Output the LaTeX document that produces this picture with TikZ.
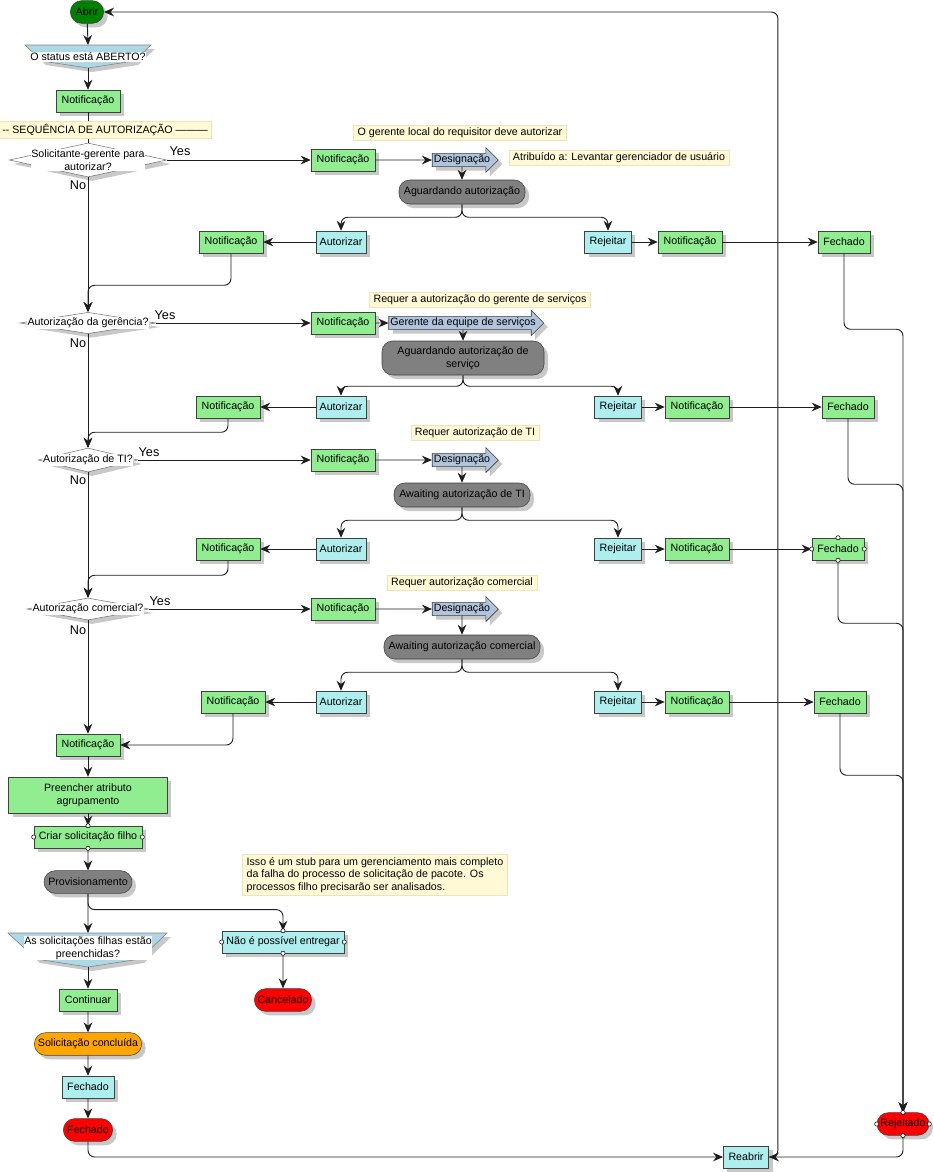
\documentclass[tikz,border=0pt]{standalone}
\usepackage{fontspec}
\setmainfont{Liberation Sans}
\usetikzlibrary{shapes,arrows,arrows.meta,positioning,shadows}

\definecolor{taskgreen}{RGB}{144,238,144}
\definecolor{actcyan}{RGB}{175,238,238}
\definecolor{stategray}{RGB}{128,128,128}
\definecolor{startgreen}{RGB}{0,128,0}
\definecolor{endred}{RGB}{255,0,0}
\definecolor{doneorange}{RGB}{255,165,0}
\definecolor{notefill}{RGB}{255,249,214}
\definecolor{notedraw}{RGB}{236,226,188}
\definecolor{assignblue}{RGB}{176,196,222}
\definecolor{askblue}{RGB}{173,216,230}
\definecolor{shadowgray}{RGB}{200,200,200}
\definecolor{linegray}{RGB}{30,30,30}
\definecolor{boxline}{RGB}{64,64,64}

\begin{document}
\begin{tikzpicture}[
  x=0.75pt, y=-0.75pt,
  every node/.style={font=\fontsize{8}{9.5}\selectfont, text=black},
  dropsh/.style={drop shadow={shadow xshift=3pt, shadow yshift=-3pt, fill=shadowgray, opacity=1}},
  box/.style={
    rectangle,
    draw=boxline,
    dropsh,
    minimum height=16.5pt,
    inner xsep=2pt,
    inner ysep=1pt
  },
  task/.style={box, fill=taskgreen},
  act/.style={box, fill=actcyan},
  pill/.style={rounded rectangle, draw=boxline, dropsh, minimum height=17pt, inner xsep=1pt},
  waitbox/.style={rectangle, rounded corners=8pt, draw=boxline, fill=stategray, dropsh,
    minimum height=18pt, align=center},
  note/.style={rectangle, draw=notedraw, fill=notefill, inner xsep=3pt, inner ysep=2pt},
  assign/.style={single arrow, draw=boxline, fill=assignblue, dropsh,
    single arrow head extend=4.5pt, inner sep=1pt},
  decision/.style={diamond, draw=black!55, fill=white, dropsh, inner sep=0pt},
  dtext/.style={fill=white, inner sep=0.5pt, align=center},
  ask/.style={draw=black!50, fill=askblue, dropsh},
  yesno/.style={font=\fontsize{9.5}{11}\selectfont, inner sep=0pt},
  arrow/.style={
    ->,
    >={Stealth[length=7.5pt,width=6.5pt]},
    draw=linegray,
    line width=0.7pt,
    rounded corners=5pt
  },
  conn/.style={draw=linegray, line width=0.7pt, rounded corners=5pt},
  port/.style={draw=black, fill=white, line width=0.4pt}
]
\useasboundingbox (0,0) rectangle (934,1172);

% start
\node[pill, fill=startgreen, minimum width=27pt] (abrir) at (87,12) {Abrir};
\coordinate (st-top) at (88,45);
\coordinate (st-tip) at (88,68);
\draw[ask] (25,45) -- (151,45) -- (134,61) -- (st-tip) -- (42,61) -- cycle;
\node[dtext] (status) at (88,57) {O status está ABERTO?};
\node[task, minimum width=48pt] (n0) at (88,101) {Notificação};

\node[decision, minimum width=118pt, minimum height=25.5pt] (d1) at (88,160) {};
\node[dtext] (d1t) at (88,160) {Solicitante-gerente para\\autorizar?};
\draw[conn] (n0) -- (d1);
\node[note, minimum width=157.5pt] (seq) at (105,130) {{-}{-} SEQUÊNCIA DE AUTORIZAÇÃO ———};
\node[yesno] (yes1) at (180,151) {Yes};
\node[yesno] (no1) at (78,185) {No};

% gerente do requisitor
\node[task, minimum width=48pt] (na1) at (343,160) {Notificação};
\node[assign] (asg1) at (462,160) {Designação};
\node[note] (nt1) at (460,133) {O gerente local do requisitor deve autorizar};
\node[note] (nt1b) at (619,158) {Atribuído a: Levantar gerenciador de usuário};
\node[waitbox, minimum width=94.5pt] (wait1) at (462,192) {Aguardando autorização};
\node[act, minimum width=37.5pt] (aut1) at (341,242) {Autorizar};
\node[act, minimum width=35pt] (rej1) at (608,242) {Rejeitar};
\node[task, minimum width=48pt] (nl1) at (231,242) {Notificação};
\node[task, minimum width=48pt] (nr1) at (690,242) {Notificação};
\node[task, minimum width=39pt] (f1) at (844,242) {Fechado};

% gerencia
\node[decision, minimum width=102pt, minimum height=16pt] (d2) at (88,323) {};
\node[dtext] (d2t) at (88,323) {Autorização da gerência?};
\node[yesno] (yes2) at (165,315) {Yes};
\node[yesno] (no2) at (78,343) {No};
\node[task, minimum width=48pt] (na2) at (343,323) {Notificação};
\node[assign] (asg2) at (463,323) {Gerente da equipe de serviços};
\node[note] (nt2) at (480,300) {Requer a autorização do gerente de serviços};
\node[waitbox, minimum width=121.5pt, minimum height=25.5pt] (wait2) at (463,358) {Aguardando autorização de\\serviço};
\node[act, minimum width=37.5pt] (aut2) at (341,407) {Autorizar};
\node[act, minimum width=35pt] (rej2) at (618,407) {Rejeitar};
\node[task, minimum width=48pt] (nl2) at (228,407) {Notificação};
\node[task, minimum width=48pt] (nr2) at (697,407) {Notificação};
\node[task, minimum width=39pt] (f2) at (848,407) {Fechado};

% TI
\node[decision, minimum width=75pt, minimum height=18pt] (d3) at (88,460) {};
\node[dtext] (d3t) at (88,460) {Autorização de TI?};
\node[yesno] (yes3) at (149,452) {Yes};
\node[yesno] (no3) at (78,480) {No};
\node[task, minimum width=48pt] (na3) at (343,460) {Notificação};
\node[assign] (asg3) at (462,460) {Designação};
\node[note] (nt3) at (475,433) {Requer autorização de TI};
\node[waitbox, minimum width=102pt] (wait3) at (462,495) {Awaiting autorização de TI};
\node[act, minimum width=37.5pt] (aut3) at (341,549) {Autorizar};
\node[act, minimum width=35pt] (rej3) at (618,549) {Rejeitar};
\node[task, minimum width=48pt] (nl3) at (228,549) {Notificação};
\node[task, minimum width=48pt] (nr3) at (697,549) {Notificação};
\node[task, minimum width=39pt] (f3) at (838,549) {Fechado};

% comercial
\node[decision, minimum width=91.5pt, minimum height=16.5pt] (d4) at (88,609) {};
\node[dtext] (d4t) at (88,609) {Autorização comercial?};
\node[yesno] (yes4) at (160,601) {Yes};
\node[yesno] (no4) at (78,630) {No};
\node[task, minimum width=48pt] (na4) at (343,609) {Notificação};
\node[assign] (asg4) at (462,609) {Designação};
\node[note] (nt4) at (462,583) {Requer autorização comercial};
\node[waitbox, minimum width=117pt] (wait4) at (462,647) {Awaiting autorização comercial};
\node[act, minimum width=37.5pt] (aut4) at (341,702) {Autorizar};
\node[act, minimum width=35pt] (rej4) at (618,702) {Rejeitar};
\node[task, minimum width=48pt] (nl4) at (233,702) {Notificação};
\node[task, minimum width=48pt] (nr4) at (697,702) {Notificação};
\node[task, minimum width=39pt] (f4) at (840,702) {Fechado};

% pedido filho
\node[task, minimum width=48pt] (n5) at (88,745) {Notificação};
\node[task, minimum width=119pt, minimum height=27pt, align=center] (grp) at (88,795) {Preencher atributo\\agrupamento};
\node[task, minimum width=81pt] (child) at (88,837) {Criar solicitação filho};
\node[pill, fill=stategray, minimum width=68pt] (prov) at (88,882) {Provisionamento};
\coordinate (dn-top) at (88,933);
\coordinate (dn-tip) at (88,967);
\draw[ask] (8,933) -- (167,933) -- (140,959) -- (dn-tip) -- (36,959) -- cycle;
\node[dtext] (done) at (88,948) {As solicitações filhas estão\\preenchidas?};
\node[act, minimum width=91.5pt] (cant) at (283,942) {Não é possível entregar};
\node[note, align=left] (nt5) at (375,875) {Isso é um stub para um gerenciamento mais completo\\da falha do processo de solicitação de pacote. Os\\processos filho precisarão ser analisados.};
\node[pill, fill=endred, minimum width=45pt] (canc) at (283,1000) {Cancelado};
\node[task, minimum width=43.5pt] (cont) at (88,1000) {Continuar};
\node[pill, fill=doneorange, minimum width=82.5pt] (conc) at (88,1044) {Solicitação concluída};
\node[act, minimum width=39pt] (fch) at (88,1087) {Fechado};
\node[pill, fill=endred, minimum width=39pt] (fend) at (88,1130) {Fechado};
\node[act, minimum width=34pt] (reab) at (746,1157) {Reabrir};
\node[pill, fill=endred, minimum width=41pt] (rejd) at (903,1124) {Rejeitado};

% connectors
\draw[arrow] (abrir) -- (st-top);
\draw[arrow] (st-tip) -- (n0);
\draw[arrow] (d1) -- (d2);
\draw[arrow] (d2) -- (d3);
\draw[arrow] (d3) -- (d4);
\draw[arrow] (d4) -- (n5);

\draw[arrow] (d1.east) -- (na1);
\draw[arrow] (na1) -- (asg1);
\draw[arrow] (asg1) -- (wait1);
\draw[arrow] (wait1.south) -- ++(0,13) -| (aut1.north);
\draw[arrow] (wait1.south) -- ++(0,13) -| (rej1.north);
\draw[arrow] (aut1) -- (nl1);
\draw[arrow] (rej1) -- (nr1);
\draw[arrow] (nr1) -- (f1);
\draw[arrow] (nl1.south) -- ++(0,32) -| (d2.north);
\draw[arrow] (f1.south) -- ++(0,76) -| (rejd.north);

\draw[arrow] (d2.east) -- (na2);
\draw[arrow] (na2) -- (asg2);
\draw[arrow] (asg2) -- (wait2);
\draw[arrow] (wait2.south) -- ++(0,11) -| (aut2.north);
\draw[arrow] (wait2.south) -- ++(0,11) -| (rej2.north);
\draw[arrow] (aut2) -- (nl2);
\draw[arrow] (rej2) -- (nr2);
\draw[arrow] (nr2) -- (f2);
\draw[arrow] (nl2.south) -- ++(0,14) -| (d3.north);
\draw[arrow] (f2.south) -- ++(0,66) -| (rejd.north);

\draw[arrow] (d3.east) -- (na3);
\draw[arrow] (na3) -- (asg3);
\draw[arrow] (asg3) -- (wait3);
\draw[arrow] (wait3.south) -- ++(0,13) -| (aut3.north);
\draw[arrow] (wait3.south) -- ++(0,13) -| (rej3.north);
\draw[arrow] (aut3) -- (nl3);
\draw[arrow] (rej3) -- (nr3);
\draw[arrow] (nr3) -- (f3);
\draw[arrow] (nl3.south) -- ++(0,15) -| (d4.north);
\draw[arrow] (f3.south) -- ++(0,63) -| (rejd.north);

\draw[arrow] (d4.east) -- (na4);
\draw[arrow] (na4) -- (asg4);
\draw[arrow] (asg4) -- (wait4);
\draw[arrow] (wait4.south) -- ++(0,13) -| (aut4.north);
\draw[arrow] (wait4.south) -- ++(0,13) -| (rej4.north);
\draw[arrow] (aut4) -- (nl4);
\draw[arrow] (rej4) -- (nr4);
\draw[arrow] (nr4) -- (f4);
\draw[arrow] (nl4.south) |- (n5.east);
\draw[arrow] (f4.south) -- ++(0,62) -| (rejd.north);

\draw[arrow] (n5) -- (grp);
\draw[arrow] (grp) -- (child);
\draw[arrow] (child) -- (prov);
\draw[arrow] (prov) -- (dn-top);
\draw[arrow] (prov.south) -- ++(0,16) -| (cant.north);
\draw[arrow] (cant) -- (canc);
\draw[arrow] (dn-tip) -- (cont);
\draw[arrow] (cont) -- (conc);
\draw[arrow] (conc) -- (fch);
\draw[arrow] (fch) -- (fend);
\draw[arrow] (fend.south) |- (reab.west);
\draw[arrow] (rejd.south) |- (reab.east);
\draw[arrow] (reab.east) -- ++(9,0) |- (abrir.east);

% connection points
\foreach \n in {child,cant,f3,rejd}
  \foreach \a in {north,south,east,west}
    \draw[port] (\n.\a) circle[radius=1.6pt];

\end{tikzpicture}
\end{document}
